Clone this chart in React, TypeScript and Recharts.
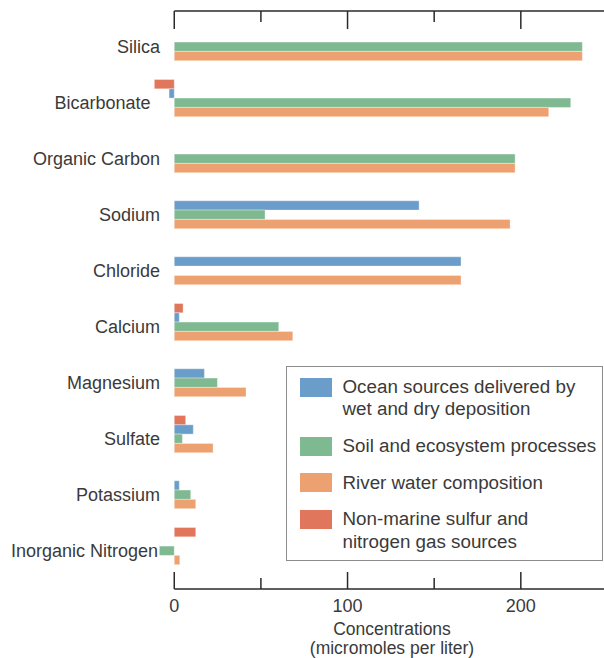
import React from "react";
import { BarChart, Bar, XAxis, YAxis, Legend, Label } from "recharts";

const categories = [
  "Silica",
  "Bicarbonate",
  "Organic Carbon",
  "Sodium",
  "Chloride",
  "Calcium",
  "Magnesium",
  "Sulfate",
  "Potassium",
  "Inorganic Nitrogen",
];
const oceanSources = [0, -3, 0, 141.3, 165.5, 2.9, 17.4, 11, 2.9, 0];
const soilProcesses = [235.5, 228.8, 196.7, 52.4, 0, 60.3, 24.9, 4.7, 9.5, -8.6];
const riverWater = [235.5, 216.1, 196.7, 193.8, 165.5, 68.4, 41.4, 22.4, 12.4, 3.2];
const nonMarineGas = [0, -11.5, 0, 0, 0, 5.1, 0, 6.6, 0, 12.4];

const xTicks = [0, 50, 100, 150, 200];
const xLabeled = [0, 100, 200];

const legendLabels = [
  ["Ocean sources delivered by", "wet and dry deposition"],
  ["Soil and ecosystem processes"],
  ["River water composition"],
  ["Non-marine sulfur and", "nitrogen gas sources"],
];

const data = categories.map((name, i) => ({
  name,
  ocean: oceanSources[i],
  soil: soilProcesses[i],
  river: riverWater[i],
  gas: nonMarineGas[i],
}));

const W = 604;
const H = 658;
const FONT = '"Liberation Sans", Arial, sans-serif';
const TEXT = "#3a3a3a";
const AXIS = "#2a2a2a";
const COLORS = { ocean: "#6b9dca", soil: "#7fb991", river: "#eda070", gas: "#e0765b" };
const legendColors = [COLORS.ocean, COLORS.soil, COLORS.river, COLORS.gas];

function TopTick({ x, y, payload }: any) {
  const major = payload.value % 100 === 0;
  return (
    <g>
      {payload.value === 0 && <line x1={x} x2={W} y1={y} y2={y} stroke={AXIS} strokeWidth={1.5} />}
      <line x1={x} x2={x} y1={y} y2={y + (major ? 18 : 11)} stroke={AXIS} strokeWidth={1.5} />
    </g>
  );
}

function BottomTick({ x, y, payload }: any) {
  const major = payload.value % 100 === 0;
  return (
    <g>
      {payload.value === 0 && <line x1={x} x2={W} y1={y} y2={y} stroke={AXIS} strokeWidth={1.5} />}
      <line x1={x} x2={x} y1={y} y2={y - (major ? 17 : 11)} stroke={AXIS} strokeWidth={1.5} />
      {xLabeled.includes(payload.value) && (
        <text x={x} y={y + 23} textAnchor="middle" fontFamily={FONT} fontSize={18} fill={TEXT}>
          {payload.value}
        </text>
      )}
    </g>
  );
}

function CategoryTick({ x, y, payload }: any) {
  // a couple of labels sit further left to clear the negative bars
  const shift = payload.value === "Bicarbonate" ? -9.5 : payload.value === "Inorganic Nitrogen" ? -2 : 0;
  return (
    <text x={x + 10 + shift} y={y + 10.5} textAnchor="end" fontFamily={FONT} fontSize={18} fill={TEXT}>
      {payload.value}
    </text>
  );
}

function AxisTitle({ viewBox }: any) {
  const cx = viewBox ? viewBox.x + viewBox.width / 2 + 15 : 392;
  const top = viewBox ? viewBox.y : 589;
  return (
    <text textAnchor="middle" fontFamily={FONT} fontSize={17.5} fill={TEXT}>
      <tspan x={cx} y={top + 46}>Concentrations</tspan>
      <tspan x={cx} y={top + 65}>(micromoles per liter)</tspan>
    </text>
  );
}

function LegendBox() {
  return (
    <div
      style={{
        boxSizing: "border-box",
        width: 317,
        height: 195,
        border: "1.5px solid #8c8c8c",
        padding: "9px 0 0 13px",
        fontFamily: FONT,
        fontSize: 18.8,
        lineHeight: "22.4px",
        color: TEXT,
        background: "#fff",
        textAlign: "left",
      }}
    >
      {legendLabels.map((lines, i) => (
        <div key={i} style={{ display: "flex", alignItems: "flex-start", marginTop: i ? 14.2 : 0 }}>
          <span style={{ width: 32, height: 19.4, marginTop: 1.5, background: legendColors[i], flex: "none" }} />
          <span style={{ marginLeft: 10.5, whiteSpace: "nowrap" }}>
            {lines.map((l, j) => (
              <div key={j}>{l}</div>
            ))}
          </span>
        </div>
      ))}
    </div>
  );
}

export default function App() {
  return (
    <div style={{ position: "absolute", left: 0, top: 0, width: W, height: H, background: "#fff" }}>
      <BarChart
        width={W}
        height={H}
        data={data}
        layout="vertical"
        margin={{ top: 0, right: 0, bottom: 0, left: 0 }}
        barGap={0}
        barSize={9.3}
      >
        <XAxis
          xAxisId="top"
          orientation="top"
          type="number"
          domain={[-14, 248]}
          allowDataOverflow
          ticks={xTicks}
          interval={0}
          height={11}
          tickSize={0}
          tickMargin={0}
          axisLine={false}
          tickLine={false}
          tick={<TopTick />}
        />
        <XAxis
          xAxisId="bottom"
          type="number"
          domain={[-14, 248]}
          ticks={xTicks}
          interval={0}
          height={69}
          tickSize={0}
          tickMargin={0}
          axisLine={false}
          tickLine={false}
          tick={<BottomTick />}
        >
          <Label content={<AxisTitle />} />
        </XAxis>
        <YAxis
          type="category"
          dataKey="name"
          width={150}
          padding={{ top: 3.5, bottom: 14.5 }}
          interval={0}
          tickSize={0}
          tickMargin={0}
          axisLine={false}
          tickLine={false}
          tick={<CategoryTick />}
        />
        <Legend
          layout="vertical"
          align="center"
          verticalAlign="middle"
          wrapperStyle={{ left: 286, top: 366, width: 317, height: 195 }}
          content={() => <LegendBox />}
        />
        <Bar xAxisId="bottom" dataKey="gas" fill={COLORS.gas} stroke="#fff" strokeOpacity={0.35} isAnimationActive={false} />
        <Bar xAxisId="bottom" dataKey="ocean" fill={COLORS.ocean} stroke="#fff" strokeOpacity={0.35} isAnimationActive={false} />
        <Bar xAxisId="bottom" dataKey="soil" fill={COLORS.soil} stroke="#fff" strokeOpacity={0.35} isAnimationActive={false} />
        <Bar xAxisId="bottom" dataKey="river" fill={COLORS.river} stroke="#fff" strokeOpacity={0.35} isAnimationActive={false} />
      </BarChart>
    </div>
  );
}
